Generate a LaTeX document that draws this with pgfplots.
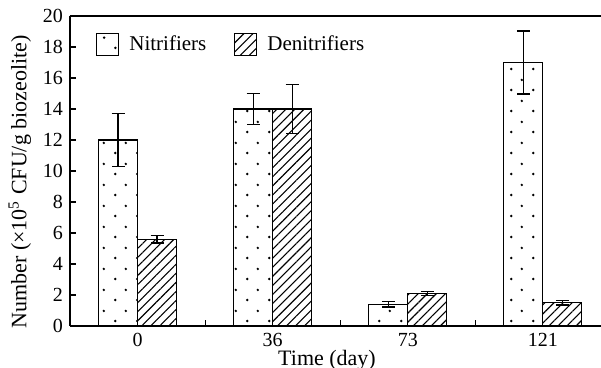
\documentclass[border=0pt]{standalone}
\usepackage{fontspec}
\setmainfont{Liberation Serif}
\usepackage{pgfplots}
\usepackage{pgfplotstable}
\pgfplotsset{compat=1.18}
\usetikzlibrary{patterns,patterns.meta}

\tikzdeclarepattern{
  name=sparsedots,
  type=uncolored,
  bottom left={(0pt,0pt)},
  top right={(11pt,10.5pt)},
  tile size={(11pt,10.5pt)},
  code={
    \fill (2.75pt,2.6pt) circle (0.7pt);
    \fill (8.25pt,7.85pt) circle (0.7pt);
  }
}

\pgfplotstableread{
x nit nite den dene
0 12.0 1.7 5.6 0.25
1 14.0 1.0 14.0 1.57
2 1.4 0.17 2.1 0.15
3 17.0 2.03 1.5 0.14
}\data

\begin{document}
\begin{tikzpicture}
\begin{axis}[
  at={(0,0)}, anchor=south west,
  scale only axis, width=265.5pt, height=155pt,
  xmin=-0.5, xmax=3.43, ymin=0, ymax=20,
  axis x line=box, axis y line=left,
  axis line style={-, line width=0.6pt},
  ybar, bar width=19.5pt,
  xtick={0,1,2,3}, xticklabels={0,36,73,121},
  minor xtick={0.5,1.5,2.5},
  xtick pos=bottom, ytick pos=left,
  major x tick style={draw=none},
  tick align=inside,
  major tick length=3pt, minor tick length=3pt,
  ytick={0,2,...,20},
  tick style={line width=0.6pt, black},
  /pgf/number format/assume math mode=true,
  tick label style={font=\fontsize{10}{12}\selectfont},
  label style={font=\fontsize{11}{13}\selectfont},
  xlabel={Time (day)},
  ylabel={Number (×10\textsuperscript{5} CFU/g biozeolite)},
  xlabel style={at={(ticklabel cs:0.484)}, anchor=north, yshift=5pt},
  ylabel style={at={(ticklabel cs:0.465)}, anchor=south, yshift=-1pt},
  legend columns=2,
  legend style={at={(axis description cs:0,1)}, anchor=north west,
    xshift=13pt, yshift=-7.5pt, draw=none, fill=none, inner sep=0pt,
    font=\fontsize{10.5}{12}\selectfont,
    /tikz/every odd column/.append style={column sep=3pt},
    /tikz/every even column/.append style={column sep=12pt}},
  every axis plot/.append style={
    legend image code/.code={\draw[#1, line width=0.5pt] (0pt,-5.5pt) rectangle (11pt,5.5pt);}},
  error bars/y dir=both, error bars/y explicit,
  error bars/error bar style={line width=0.6pt, black, solid},
  error bars/error mark options={rotate=90, mark size=3.25pt, line width=0.6pt, black},
]
\addplot[draw=black, line width=0.6pt, pattern=sparsedots, bar shift=-9.75pt]
  table[x=x, y=nit, y error=nite] {\data};
\addlegendentry{Nitrifiers}
\addplot[draw=black, line width=0.6pt, pattern={Lines[angle=45, distance=3.2pt, line width=0.55pt]}, bar shift=9.75pt]
  table[x=x, y=den, y error=dene] {\data};
\addlegendentry{Denitrifiers}
\end{axis}
\pgfresetboundingbox
\path[use as bounding box] (-35pt,-21pt) rectangle (265.5pt,163pt);
\end{tikzpicture}
\end{document}
